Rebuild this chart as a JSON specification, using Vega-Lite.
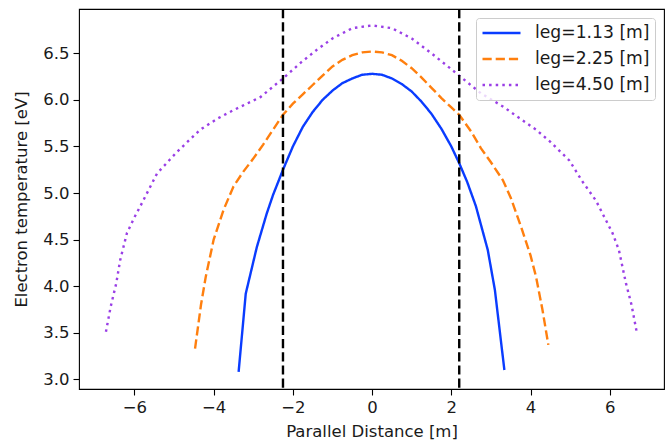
{
  "$schema": "https://vega.github.io/schema/vega-lite/v6.json",
  "width": 585,
  "height": 380,
  "autosize": {"type": "none"},
  "padding": {"left": 79, "top": 9, "right": 8, "bottom": 54},
  "background": "white",
  "config": {
    "font": "DejaVu Sans",
    "view": {"stroke": "black", "strokeWidth": 1.1},
    "axis": {
      "grid": false,
      "domain": false,
      "tickColor": "black",
      "tickSize": 6,
      "tickWidth": 1.1,
      "labelFont": "DejaVu Sans",
      "labelFontSize": 16.5,
      "labelColor": "#1a1a1a",
      "labelPadding": 4,
      "titleFont": "DejaVu Sans",
      "titleFontSize": 16.5,
      "titleFontWeight": "normal",
      "titleColor": "#1a1a1a"
    },
    "legend": {
      "title": null,
      "orient": "top-right",
      "offset": 9,
      "symbolType": "stroke",
      "symbolSize": 1444,
      "symbolStrokeWidth": 2.4,
      "labelFont": "DejaVu Sans",
      "labelFontSize": 17.2,
      "labelColor": "#1a1a1a",
      "labelOffset": 13,
      "clipHeight": 20,
      "rowPadding": 6,
      "padding": 5,
      "strokeColor": "#cccccc",
      "cornerRadius": 3,
      "fillColor": "rgba(255,255,255,0.8)"
    }
  },
  "datasets": {
    "curves": [
      {"x": -3.37, "T": 3.08, "leg": "leg=1.13 [m]"},
      {"x": -3.19, "T": 3.92, "leg": "leg=1.13 [m]"},
      {"x": -2.91, "T": 4.42, "leg": "leg=1.13 [m]"},
      {"x": -2.66, "T": 4.78, "leg": "leg=1.13 [m]"},
      {"x": -2.5, "T": 4.98, "leg": "leg=1.13 [m]"},
      {"x": -2.25, "T": 5.25, "leg": "leg=1.13 [m]"},
      {"x": -2.0, "T": 5.5, "leg": "leg=1.13 [m]"},
      {"x": -1.75, "T": 5.71, "leg": "leg=1.13 [m]"},
      {"x": -1.5, "T": 5.87, "leg": "leg=1.13 [m]"},
      {"x": -1.25, "T": 6.0, "leg": "leg=1.13 [m]"},
      {"x": -1.0, "T": 6.1, "leg": "leg=1.13 [m]"},
      {"x": -0.75, "T": 6.18, "leg": "leg=1.13 [m]"},
      {"x": -0.5, "T": 6.23, "leg": "leg=1.13 [m]"},
      {"x": -0.25, "T": 6.27, "leg": "leg=1.13 [m]"},
      {"x": 0.0, "T": 6.28, "leg": "leg=1.13 [m]"},
      {"x": 0.25, "T": 6.27, "leg": "leg=1.13 [m]"},
      {"x": 0.5, "T": 6.23, "leg": "leg=1.13 [m]"},
      {"x": 0.75, "T": 6.17, "leg": "leg=1.13 [m]"},
      {"x": 1.0, "T": 6.09, "leg": "leg=1.13 [m]"},
      {"x": 1.25, "T": 5.98, "leg": "leg=1.13 [m]"},
      {"x": 1.5, "T": 5.85, "leg": "leg=1.13 [m]"},
      {"x": 1.75, "T": 5.69, "leg": "leg=1.13 [m]"},
      {"x": 2.0, "T": 5.5, "leg": "leg=1.13 [m]"},
      {"x": 2.2, "T": 5.32, "leg": "leg=1.13 [m]"},
      {"x": 2.4, "T": 5.12, "leg": "leg=1.13 [m]"},
      {"x": 2.62, "T": 4.86, "leg": "leg=1.13 [m]"},
      {"x": 2.92, "T": 4.39, "leg": "leg=1.13 [m]"},
      {"x": 3.1, "T": 3.96, "leg": "leg=1.13 [m]"},
      {"x": 3.34, "T": 3.1, "leg": "leg=1.13 [m]"},

      {"x": -4.47, "T": 3.33, "leg": "leg=2.25 [m]"},
      {"x": -4.32, "T": 3.8, "leg": "leg=2.25 [m]"},
      {"x": -4.2, "T": 4.1, "leg": "leg=2.25 [m]"},
      {"x": -4.0, "T": 4.5, "leg": "leg=2.25 [m]"},
      {"x": -3.75, "T": 4.82, "leg": "leg=2.25 [m]"},
      {"x": -3.5, "T": 5.07, "leg": "leg=2.25 [m]"},
      {"x": -3.25, "T": 5.23, "leg": "leg=2.25 [m]"},
      {"x": -3.0, "T": 5.37, "leg": "leg=2.25 [m]"},
      {"x": -2.75, "T": 5.52, "leg": "leg=2.25 [m]"},
      {"x": -2.5, "T": 5.68, "leg": "leg=2.25 [m]"},
      {"x": -2.25, "T": 5.84, "leg": "leg=2.25 [m]"},
      {"x": -2.0, "T": 5.96, "leg": "leg=2.25 [m]"},
      {"x": -1.75, "T": 6.06, "leg": "leg=2.25 [m]"},
      {"x": -1.5, "T": 6.16, "leg": "leg=2.25 [m]"},
      {"x": -1.25, "T": 6.26, "leg": "leg=2.25 [m]"},
      {"x": -1.0, "T": 6.36, "leg": "leg=2.25 [m]"},
      {"x": -0.75, "T": 6.43, "leg": "leg=2.25 [m]"},
      {"x": -0.5, "T": 6.48, "leg": "leg=2.25 [m]"},
      {"x": -0.25, "T": 6.51, "leg": "leg=2.25 [m]"},
      {"x": 0.0, "T": 6.52, "leg": "leg=2.25 [m]"},
      {"x": 0.25, "T": 6.51, "leg": "leg=2.25 [m]"},
      {"x": 0.5, "T": 6.48, "leg": "leg=2.25 [m]"},
      {"x": 0.75, "T": 6.42, "leg": "leg=2.25 [m]"},
      {"x": 1.0, "T": 6.34, "leg": "leg=2.25 [m]"},
      {"x": 1.25, "T": 6.24, "leg": "leg=2.25 [m]"},
      {"x": 1.5, "T": 6.13, "leg": "leg=2.25 [m]"},
      {"x": 1.75, "T": 6.02, "leg": "leg=2.25 [m]"},
      {"x": 2.0, "T": 5.92, "leg": "leg=2.25 [m]"},
      {"x": 2.2, "T": 5.84, "leg": "leg=2.25 [m]"},
      {"x": 2.5, "T": 5.66, "leg": "leg=2.25 [m]"},
      {"x": 2.75, "T": 5.48, "leg": "leg=2.25 [m]"},
      {"x": 3.0, "T": 5.33, "leg": "leg=2.25 [m]"},
      {"x": 3.3, "T": 5.14, "leg": "leg=2.25 [m]"},
      {"x": 3.5, "T": 4.95, "leg": "leg=2.25 [m]"},
      {"x": 3.76, "T": 4.64, "leg": "leg=2.25 [m]"},
      {"x": 4.0, "T": 4.33, "leg": "leg=2.25 [m]"},
      {"x": 4.14, "T": 4.1, "leg": "leg=2.25 [m]"},
      {"x": 4.3, "T": 3.75, "leg": "leg=2.25 [m]"},
      {"x": 4.45, "T": 3.37, "leg": "leg=2.25 [m]"},

      {"x": -6.72, "T": 3.51, "leg": "leg=4.50 [m]"},
      {"x": -6.6, "T": 3.78, "leg": "leg=4.50 [m]"},
      {"x": -6.46, "T": 4.03, "leg": "leg=4.50 [m]"},
      {"x": -6.36, "T": 4.28, "leg": "leg=4.50 [m]"},
      {"x": -6.19, "T": 4.57, "leg": "leg=4.50 [m]"},
      {"x": -6.0, "T": 4.74, "leg": "leg=4.50 [m]"},
      {"x": -5.85, "T": 4.86, "leg": "leg=4.50 [m]"},
      {"x": -5.43, "T": 5.21, "leg": "leg=4.50 [m]"},
      {"x": -4.93, "T": 5.44, "leg": "leg=4.50 [m]"},
      {"x": -4.34, "T": 5.68, "leg": "leg=4.50 [m]"},
      {"x": -3.9, "T": 5.8, "leg": "leg=4.50 [m]"},
      {"x": -3.5, "T": 5.89, "leg": "leg=4.50 [m]"},
      {"x": -2.82, "T": 6.03, "leg": "leg=4.50 [m]"},
      {"x": -2.25, "T": 6.23, "leg": "leg=4.50 [m]"},
      {"x": -1.8, "T": 6.4, "leg": "leg=4.50 [m]"},
      {"x": -1.39, "T": 6.54, "leg": "leg=4.50 [m]"},
      {"x": -1.0, "T": 6.66, "leg": "leg=4.50 [m]"},
      {"x": -0.5, "T": 6.77, "leg": "leg=4.50 [m]"},
      {"x": 0.0, "T": 6.8, "leg": "leg=4.50 [m]"},
      {"x": 0.5, "T": 6.77, "leg": "leg=4.50 [m]"},
      {"x": 1.0, "T": 6.66, "leg": "leg=4.50 [m]"},
      {"x": 1.5, "T": 6.5, "leg": "leg=4.50 [m]"},
      {"x": 2.0, "T": 6.33, "leg": "leg=4.50 [m]"},
      {"x": 2.2, "T": 6.26, "leg": "leg=4.50 [m]"},
      {"x": 2.75, "T": 6.07, "leg": "leg=4.50 [m]"},
      {"x": 3.3, "T": 5.93, "leg": "leg=4.50 [m]"},
      {"x": 3.7, "T": 5.81, "leg": "leg=4.50 [m]"},
      {"x": 4.14, "T": 5.68, "leg": "leg=4.50 [m]"},
      {"x": 4.5, "T": 5.55, "leg": "leg=4.50 [m]"},
      {"x": 4.98, "T": 5.35, "leg": "leg=4.50 [m]"},
      {"x": 5.3, "T": 5.13, "leg": "leg=4.50 [m]"},
      {"x": 5.65, "T": 4.92, "leg": "leg=4.50 [m]"},
      {"x": 6.07, "T": 4.57, "leg": "leg=4.50 [m]"},
      {"x": 6.23, "T": 4.39, "leg": "leg=4.50 [m]"},
      {"x": 6.41, "T": 4.03, "leg": "leg=4.50 [m]"},
      {"x": 6.55, "T": 3.8, "leg": "leg=4.50 [m]"},
      {"x": 6.68, "T": 3.51, "leg": "leg=4.50 [m]"}
    ],
    "vlines": [
      {"x": -2.25},
      {"x": 2.2}
    ]
  },
  "layer": [
    {
      "data": {"name": "curves"},
      "mark": {"type": "line", "strokeWidth": 2.4, "clip": true},
      "encoding": {
        "x": {
          "field": "x",
          "type": "quantitative",
          "scale": {"domain": [-7.4, 7.37], "nice": false, "zero": false},
          "axis": {"title": "Parallel Distance [m]", "values": [-6, -4, -2, 0, 2, 4, 6], "titlePadding": 8}
        },
        "y": {
          "field": "T",
          "type": "quantitative",
          "scale": {"domain": [2.896, 6.976], "nice": false, "zero": false},
          "axis": {"title": "Electron temperature [eV]", "values": [3.0, 3.5, 4.0, 4.5, 5.0, 5.5, 6.0, 6.5], "format": ".1f", "titlePadding": 13}
        },
        "color": {
          "field": "leg",
          "type": "nominal",
          "scale": {
            "domain": ["leg=1.13 [m]", "leg=2.25 [m]", "leg=4.50 [m]"],
            "range": ["#0a3cff", "#ff7f0e", "#9a3fe6"]
          },
          "legend": {"title": null}
        },
        "strokeDash": {
          "field": "leg",
          "type": "nominal",
          "scale": {
            "domain": ["leg=1.13 [m]", "leg=2.25 [m]", "leg=4.50 [m]"],
            "range": [[1, 0], [9.2, 4], [2.5, 4.1]]
          },
          "legend": {"title": null}
        }
      }
    },
    {
      "data": {"name": "vlines"},
      "mark": {"type": "rule", "color": "black", "strokeWidth": 2.4, "strokeDash": [9.2, 4]},
      "encoding": {
        "x": {"field": "x", "type": "quantitative"}
      }
    }
  ]
}
